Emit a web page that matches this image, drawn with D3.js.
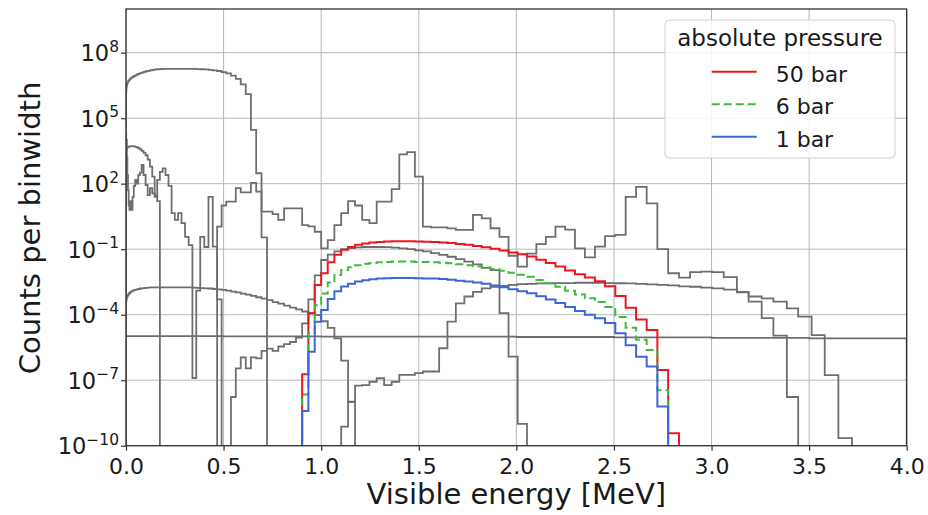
<!DOCTYPE html>
<html><head><meta charset="utf-8">
<script src="https://cdn.jsdelivr.net/npm/d3@7"></script>
<style>body{margin:0;background:#fff;} svg text{font-family:"DejaVu Sans",sans-serif;fill:#1a1a1a;}</style>
</head><body><svg id="chart" width="928" height="515"></svg>
<script>
// ---------------- data ----------------
// shared histogram bin edges (MeV)
const binEdges = [0,0.00028,0.00111,0.0025,0.00444,0.00694,0.01,0.01361,0.01778,0.0225,0.02778,0.03361,0.04,0.04694,0.05444,0.0625,0.07111,0.08028,0.09,0.10028,0.11111,0.1225,0.13444,0.14694,0.16,0.17361,0.18778,0.2025,0.21778,0.23361,0.25,0.26694,0.28444,0.3025,0.32111,0.34028,0.36,0.38028,0.40111,0.4225,0.44444,0.46694,0.49,0.51361,0.53778,0.5625,0.58778,0.61361,0.64,0.66694,0.69444,0.7225,0.75111,0.78028,0.81,0.84028,0.87111,0.9025,0.93444,0.96694,1.0,
1.03361,1.06778,1.1025,1.13778,1.17361,1.21,1.24694,1.28444,1.3225,1.36111,1.40028,1.44,1.48028,1.52111,1.5625,1.60444,1.64694,1.69,1.73361,1.77778,1.8225,1.86778,1.91361,1.96,2.00694,2.05444,2.1025,2.15111,2.20028,2.25,2.30028,2.35111,2.4025,2.45444,2.50694,2.56,2.61361,2.66778,2.7225,2.77778,2.83361,2.89,2.94694,3.00444,3.0625,
3.13,3.19,3.257,3.317,3.386,3.444,3.513,3.58,3.65,3.72,3.79,3.86,3.93,4.0];

const xTickValues = [0,0.5,1.0,1.5,2.0,2.5,3.0,3.5,4.0];
const yTickExponents = [-10,-7,-4,-1,2,5,8];

// background histograms (grey), counts per binwidth, first bin index
const humpStart = 0;
const humpCounts = [6.3e5,1.3e6,2.0e6,2.8e6,3.5e6,4.2e6,4.8e6,5.4e6,6.0e6,6.6e6,7.2e6,7.9e6,8.5e6,9.1e6,1.0e7,1.07e7,1.15e7,1.23e7,1.32e7,1.41e7,1.48e7,1.55e7,1.62e7,1.7e7,1.74e7,1.78e7,1.82e7,1.82e7,1.82e7,1.82e7,1.82e7,1.82e7,1.82e7,1.82e7,1.82e7,1.82e7,1.78e7,1.74e7,1.7e7,1.62e7,1.55e7,1.45e7,1.29e7,1.12e7,8.9e6,6.3e6,3.5e6,1.26e6,2.9e4,3.0e2,0.35];

const lowDecayStart = 0;
const lowDecayCounts = [2.8e3,3.2e3,3.5e3,4.0e3,4.3e3,4.6e3,4.8e3,5.0e3,5.1e3,5.2e3,5.2e3,5.2e3,5.1e3,4.9e3,4.6e3,4.2e3,3.7e3,3.2e3,2.6e3,2.0e3,1.26e3,6.0e2,2.1e2,28,16];

const noisyStart = 0;
const noisyCounts = [2.0e3,2.0e4,5.0e3,1.0e4,1.6e3,2.5e2,50,10,6.3,16,6.3,25,79,1.5e2,1.0e2,2.5e2,3.2e2,7.2e2,2.5e2,87,30,63,36,25,1.5e2,3.5e2,5.0e2,2.5e2,79,4.5,2.2,4.5,1.55,0.37,0.155,1.26e-7,1.26e-3,0.37,0.126,25,0.13,5.0e-4];

const peaksStart = 41;
const peaksCounts = [1.07,10,15,15,62,40,40,110,43,5.2,5.2,4.0,2.2,7.4,7.4,7.4,1.26,1.1,0.63,0.11,0.26,1.26,4.5,16,10,2.2,1.55,15,15,56,2.2e3,2.8e3,2.1e2,1.07,1.0,1.0,0.89,0.76,0.76,3.7,2.6,0.91,0.37,0.05,0.016,0.063,0.17,0.37,1.07,0.79,0.11,0.042,0.13,0.4,0.45,25,72,12.6,0.1,7.9e-3,5.0e-3,8.9e-3,9.3e-3,8.9e-3,5.2e-3,1.1e-3,6.8e-4,5.6e-4,4.0e-4,1.95e-4,8.1e-5,1.17e-5,1.7e-7,2.2e-10];

const shapeStart = 44;
const shapeCounts = [1.7e-8,3.5e-7,1.1e-6,3.5e-7,1.1e-6,1.0e-6,2.2e-6,2.8e-6,2.2e-6,3.5e-6,4.5e-6,5.6e-6,8.9e-6,4.0e-5,5.0e-4,6.3e-3,3.2e-2,5.6e-2,7.9e-2,0.1,0.112,0.12,0.126,0.126,0.126,0.123,0.117,0.11,0.1,0.089,0.079,0.066,0.055,0.045,0.035,0.027,0.02,0.014,0.011,1.17e-4,1.2e-6,1.0e-9];

const plateauStart = 0;
const plateauCounts = [2.8e-4,3.5e-4,4.5e-4,5.4e-4,6.3e-4,7.2e-4,8.1e-4,9.1e-4,1.0e-3,1.1e-3,1.17e-3,1.26e-3,1.32e-3,1.38e-3,1.45e-3,1.5e-3,1.58e-3,1.62e-3,1.66e-3,1.7e-3,1.74e-3,1.78e-3,1.78e-3,1.78e-3,1.78e-3,1.78e-3,1.78e-3,1.78e-3,1.78e-3,1.78e-3,1.78e-3,1.78e-3,1.78e-3,1.78e-3,1.78e-3,1.74e-3,1.7e-3,1.66e-3,1.62e-3,1.58e-3,1.5e-3,1.45e-3,1.38e-3,1.26e-3,1.15e-3,1.05e-3,9.3e-4,8.3e-4,7.2e-4,6.3e-4,5.4e-4,4.6e-4,3.8e-4,3.2e-4,2.6e-4,2.1e-4,1.74e-4,1.4e-4,1.17e-4,9.5e-5,5.0e-5,2.5e-5,8.3e-6,7.9e-7,1.0e-8];

const riseStart = 63;
const riseCounts = [7.4e-10,1.05e-8,5.6e-8,6.0e-8,8.5e-8,1.23e-7,6.0e-8,8.5e-8,1.74e-7,1.74e-7,2.1e-7,2.5e-7,2.5e-7,2.9e-6,4.8e-5,3.3e-4,6.8e-4,1.1e-3,1.6e-3,1.9e-3,2.1e-3,2.3e-3,2.5e-3,2.6e-3,2.7e-3,2.75e-3,2.8e-3,2.8e-3,2.9e-3,2.9e-3,2.9e-3,2.8e-3,2.75e-3,2.7e-3,2.6e-3,2.45e-3,2.3e-3,2.2e-3,2.0e-3,1.9e-3,1.74e-3,1.6e-3,1.4e-3,1.05e-3,4.0e-4,6.9e-5,1.1e-5,1.7e-8];

const flatEdges = [0,0.5,1.0,1.5,2.0,2.5,3.0,3.5,4.0];
const flatCounts = [1.05e-5,1.02e-5,1.0e-5,9.8e-6,9.5e-6,9.1e-6,8.7e-6,8.3e-6];

// signal histograms
const pressureLabels = ["50 bar","6 bar","1 bar"];
const signalStart = 57;
const bar50Counts = [1.86e-7,1.17e-4,2.3e-3,7.9e-3,2.5e-2,5.6e-2,9.3e-2,0.126,0.158,0.182,0.2,0.214,0.224,0.229,0.229,0.229,0.224,0.219,0.214,0.204,0.19,0.174,0.158,0.141,0.123,0.105,0.087,0.071,0.058,0.046,0.033,0.0234,0.0162,0.0107,7.1e-3,5.0e-3,3.4e-3,2.0e-3,7.1e-4,2.1e-4,6.0e-5,2.0e-5,2.95e-7,3.7e-10];
const bar6Counts = [2.2e-8,1.38e-5,2.7e-4,9.3e-4,3.0e-3,6.6e-3,1.1e-2,1.48e-2,1.86e-2,2.14e-2,2.34e-2,2.5e-2,2.6e-2,2.7e-2,2.7e-2,2.7e-2,2.6e-2,2.57e-2,2.5e-2,2.4e-2,2.24e-2,2.04e-2,1.86e-2,1.66e-2,1.45e-2,1.23e-2,1.02e-2,8.3e-3,6.8e-3,5.4e-3,3.9e-3,2.75e-3,1.9e-3,1.26e-3,8.3e-4,5.6e-4,3.8e-4,2.24e-4,7.9e-5,2.5e-5,7.1e-6,2.4e-6,3.5e-8];
const bar1Counts = [3.9e-9,2.0e-6,4.8e-5,1.66e-4,5.2e-4,1.17e-3,1.95e-3,2.6e-3,3.3e-3,3.8e-3,4.2e-3,4.5e-3,4.7e-3,4.8e-3,4.8e-3,4.8e-3,4.7e-3,4.6e-3,4.5e-3,4.3e-3,4.0e-3,3.6e-3,3.3e-3,2.95e-3,2.6e-3,2.2e-3,1.8e-3,1.48e-3,1.2e-3,9.5e-4,6.9e-4,4.9e-4,3.4e-4,2.24e-4,1.48e-4,1.0e-4,6.9e-5,4.2e-5,1.4e-5,4.0e-6,1.2e-6,4.2e-7,6.2e-9];

// ---------------- drawing ----------------
const svg = d3.select("#chart");
const L = 126, R = 906.7, T = 9, B = 445.7;
const x = d3.scaleLinear().domain([0,4]).range([L,R]);
const y = d3.scaleLog().domain([1e-10,1e10]).range([B,T]);

svg.append("defs").append("clipPath").attr("id","plotclip")
  .append("rect").attr("x",L).attr("y",T).attr("width",R-L).attr("height",B-T);

// grid
const grid = svg.append("g").attr("stroke","#b8b8b8").attr("stroke-width",1);
xTickValues.forEach(v=>grid.append("line").attr("x1",x(v)).attr("x2",x(v)).attr("y1",T).attr("y2",B));
yTickExponents.forEach(e=>grid.append("line").attr("x1",L).attr("x2",R).attr("y1",y(Math.pow(10,e))).attr("y2",y(Math.pow(10,e))));

const floorY = B + 8;
function stepPoints(edges, start, vals){
  const pts = [[x(edges[start]), floorY]];
  vals.forEach((v,i)=>{
    const yy = v > 0 ? y(v) : floorY;
    pts.push([x(edges[start+i]), yy]);
    pts.push([x(edges[start+i+1]), yy]);
  });
  pts.push([x(edges[start+vals.length]), floorY]);
  return pts;
}
const line = d3.line();
const plot = svg.append("g").attr("clip-path","url(#plotclip)");
const grey = "#6e6e6e";
const greySets = [
  [binEdges, humpStart, humpCounts],
  [binEdges, lowDecayStart, lowDecayCounts],
  [binEdges, noisyStart, noisyCounts],
  [binEdges, plateauStart, plateauCounts],
  [flatEdges, 0, flatCounts],
  [binEdges, shapeStart, shapeCounts],
  [binEdges, riseStart, riseCounts],
  [binEdges, peaksStart, peaksCounts]
];
greySets.forEach(s=>{
  plot.append("path").attr("d", line(stepPoints(s[0], s[1], s[2])))
    .attr("fill","none").attr("stroke",grey).attr("stroke-width",1.8).attr("stroke-linejoin","miter");
});
const sigStyles = [
  {vals: bar50Counts, color:"#f0141e", dash:null},
  {vals: bar6Counts, color:"#3dbb3d", dash:"8,4"},
  {vals: bar1Counts, color:"#3d66d8", dash:null}
];
sigStyles.forEach(s=>{
  plot.append("path").attr("d", line(stepPoints(binEdges, signalStart, s.vals)))
    .attr("fill","none").attr("stroke",s.color).attr("stroke-width",2)
    .attr("stroke-dasharray", s.dash);
});

// axes
const xAxis = d3.axisBottom(x).tickValues(xTickValues).tickFormat(d3.format(".1f")).tickSize(5).tickPadding(0);
const gx = svg.append("g").attr("transform",`translate(0,${B})`).call(xAxis);
gx.select(".domain").remove();
gx.selectAll("line").attr("stroke","#333").attr("stroke-width",1.2);
gx.selectAll("text").attr("font-size","22px").attr("y",12.5).attr("fill","#1a1a1a");

const yAxis = d3.axisLeft(y).tickValues(yTickExponents.map(e=>Math.pow(10,e))).tickFormat("").tickSize(5);
const gy = svg.append("g").attr("transform",`translate(${L},0)`).call(yAxis);
gy.select(".domain").remove();
gy.selectAll("line").attr("stroke","#333").attr("stroke-width",1.2);
yTickExponents.forEach(e=>{
  const t = svg.append("text").attr("x",119).attr("y",y(Math.pow(10,e))+8.5)
    .attr("text-anchor","end").attr("font-size","22.5px");
  t.append("tspan").text("10");
  t.append("tspan").attr("dy",-9.5).attr("font-size","15.5px").text(String(e).replace("-","\u2212"));
});

svg.append("rect").attr("x",L).attr("y",T).attr("width",R-L).attr("height",B-T)
  .attr("fill","none").attr("stroke","#333").attr("stroke-width",1.3);

svg.append("text").attr("x",(L+R)/2).attr("y",504).attr("text-anchor","middle")
  .attr("font-size","29px").text("Visible energy [MeV]");
svg.append("text").attr("transform","translate(40,228) rotate(-90)").attr("text-anchor","middle")
  .attr("font-size","29px").text("Counts per binwidth");

// legend
const lg = svg.append("g");
lg.append("rect").attr("x",665).attr("y",20).attr("width",230).attr("height",138).attr("rx",4)
  .attr("fill","#fff").attr("fill-opacity",0.85).attr("stroke","#d0d0d0").attr("stroke-width",1);
lg.append("text").attr("x",780).attr("y",46).attr("text-anchor","middle").attr("font-size","23px").text("absolute pressure");
sigStyles.forEach((s,i)=>{
  const yy = 71.7 + i*32.5;
  lg.append("line").attr("x1",711.7).attr("x2",756.7).attr("y1",yy).attr("y2",yy)
    .attr("stroke",s.color).attr("stroke-width",2).attr("stroke-dasharray",s.dash);
  lg.append("text").attr("x",775.7).attr("y",yy+10).attr("font-size","22px").text(pressureLabels[i]);
});
</script></body></html>
